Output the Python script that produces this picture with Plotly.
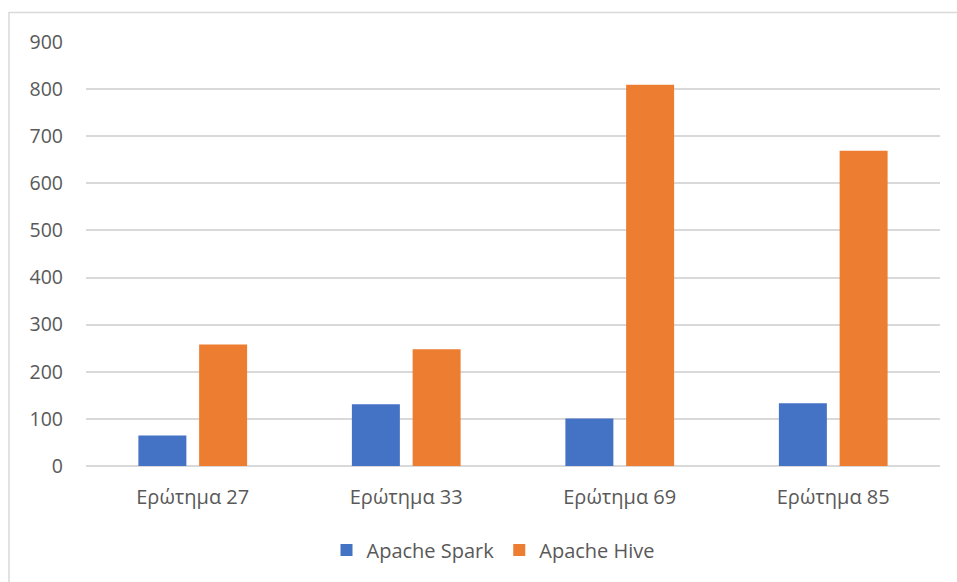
import plotly.graph_objects as go

categories = ["Ερώτημα 27", "Ερώτημα 33", "Ερώτημα 69", "Ερώτημα 85"]
spark = [65, 131, 101, 133]
hive = [258, 248, 809, 669]
y_ticks = [0, 100, 200, 300, 400, 500, 600, 700, 800, 900]

W, H = 957, 582
L, R, T, B = 86, 17, 42, 116
pw, ph = W - L - R, H - T - B

fig = go.Figure()
fig.add_trace(go.Bar(name="Apache Spark", x=categories, y=spark,
                     marker=dict(color="#4472C4", line=dict(width=0))))
fig.add_trace(go.Bar(name="Apache Hive", x=categories, y=hive,
                     marker=dict(color="#ED7D31", line=dict(width=0))))

font_family = "Open Sans, Liberation Sans, sans-serif"
fig.update_layout(
    width=W, height=H,
    margin=dict(l=L, r=R, t=T, b=B),
    paper_bgcolor="white", plot_bgcolor="white",
    barmode="group", bargap=0.431, bargroupgap=0.21,
    font=dict(family=font_family, size=19, color="#595959"),
    showlegend=True,
    legend=dict(orientation="h", x=(493.5 - L) / pw, xanchor="center",
                y=-(550 - (T + ph)) / ph, yanchor="middle",
                font=dict(size=20, color="#595959"), itemwidth=30,
                traceorder="normal"),
    xaxis=dict(showgrid=False, showline=False, ticks="", zeroline=False,
               tickfont=dict(size=20, color="#595959")),
    yaxis=dict(range=[0, 900], tickvals=y_ticks, showgrid=True,
               gridcolor="#d9d9d9", gridwidth=1.5, zeroline=True,
               zerolinecolor="#d9d9d9", zerolinewidth=1.5, showline=False,
               ticks="", ticklabelstandoff=22,
               tickfont=dict(size=19.5, color="#595959")),
)
fig.update_xaxes(ticklabelstandoff=17)

# outer chart border
fig.add_shape(type="rect", xref="paper", yref="paper",
              x0=(9 - L) / pw, x1=(990 - L) / pw,
              y0=1 - (600 - T) / ph, y1=1 + (T - 12.5) / ph,
              line=dict(color="#d9d9d9", width=1.5), fillcolor="rgba(0,0,0,0)",
              layer="below")

fig.write_html("out.html")
